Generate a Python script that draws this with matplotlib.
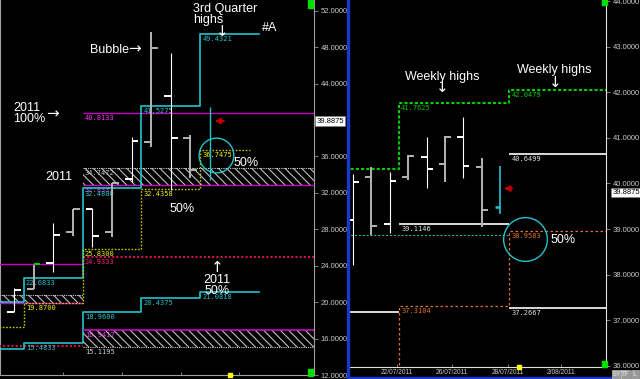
import numpy as np
import matplotlib
matplotlib.use("Agg")
import matplotlib.pyplot as plt
from matplotlib.patches import Rectangle
from matplotlib.transforms import blended_transform_factory

plt.rcParams['font.family'] = ['Liberation Sans', 'DejaVu Sans']
plt.rcParams['hatch.linewidth'] = 0.8

# ---- lewy wykres: slupki miesieczne (OHLC) ----
m_open  = [18.91, 21.44, 24.30, 27.70, 30.22, 27.70, 33.52, 37.58, 42.63, 38.02]
m_high  = [21.55, 24.08, 28.69, 30.22, 30.33, 33.08, 38.13, 49.66, 47.35, 38.35]
m_low   = [18.91, 21.44, 23.31, 27.26, 26.05, 27.15, 33.19, 37.03, 32.31, 33.63]
m_close = [21.33, 24.18, 27.37, 30.22, 27.26, 33.08, 37.69, 47.90, 38.02, 34.51]
cur_m_high, cur_m_low = 41.43, 33.41

# kwartaly
q_edges = [-1, 0.5, 3.5, 6.5, 9.5, 12.5]
q_high = [20.05, 22.6833, 32.4800, 41.5275, 49.4321]
q_low  = [14.85, 15.4833, 18.9600, 20.4375, 21.0818]
q_half = [17.27, 19.8700, 25.8300, 32.4358, 36.7475]
q_half_end = 12.04

# poziomy roczne (2010 / 2011)
y_edges = [-1, 3.5, 16]
y_full = [24.16, 40.8133]
y_zone_top = [20.78, 34.7472]
y_zone_bot = [19.87, 32.8333]
y_half = [15.17, 24.9333]
y_low_top, y_low_bot = 16.9417, 15.1195

# ---- prawy wykres: slupki dzienne ----
d_open  = [39.20, 40.14, 39.11, 40.14, 40.58, 40.43, 41.02, 40.36]
d_high  = [40.21, 40.36, 40.25, 40.62, 41.02, 41.04, 41.46, 40.56]
d_low   = [38.21, 38.87, 38.91, 40.07, 39.90, 40.03, 40.12, 39.04]
d_close = [40.03, 39.07, 40.05, 40.60, 40.32, 41.02, 40.38, 39.42]
cur_d_open, cur_d_high, cur_d_low = 39.48, 40.38, 39.33

# tygodnie
w_edges = [-1, 2.5, 8.5, 14]
w_high = [40.32, 41.7625, 42.0479]
w_white = [37.18, 39.1146, 40.6499]
w_white2 = 37.2667
w_half = [37.3104, 38.9583]
w_cyan = 38.87

last_price = 39.8875
dates = ['22/07/2011', '26/07/2011', '28/07/2011', '2/08/2011']
date_pos = [2.4, 5.4, 8.4, 11.3]

CYAN = '#22c4cc'
MAG = '#c800c8'
CRIM = '#d0105a'
YEL = '#c8c800'
GRN = '#00cc00'
ORG = '#e0702c'
GREY = '#b4b4b4'


def step_xy(edges, vals):
    xs = np.repeat(edges, 2)[1:-1]
    ys = np.repeat(vals, 2)
    return xs, ys


def ohlc(ax, o, h, l, c, tick):
    for i in range(len(o)):
        col = 'white' if i % 2 == 0 else GREY
        lw = 0.8 if i % 2 == 0 else 1.4
        ax.vlines(i, l[i], h[i], colors=col, lw=lw, zorder=4)
        ax.hlines(o[i], i - tick, i, colors=col, lw=1.4, zorder=4)
        ax.hlines(c[i], i, i + tick, colors=col, lw=1.4, zorder=4)


def label(ax, x, v, txt, col):
    ax.annotate(txt, (x, v), xytext=(1.5, -1.5), textcoords='offset points',
                ha='left', va='top', fontsize=5, color=col,
                family='DejaVu Sans Mono', zorder=3)


fig = plt.figure(figsize=(6.4, 3.79), dpi=100, facecolor='black')
W, H = 640, 379
ax = fig.add_axes([0, 4 / H, 314 / W, 375 / H], facecolor='black')
ax2 = fig.add_axes([349 / W, 12 / H, 257 / W, 367 / H], facecolor='black')

# ===== lewy =====
ax.set_xlim(-0.714, 15.31)
ax.set_ylim(12.0, 53.175)
xmax = 16

# strefy kreskowane
for k in range(2):
    x0, x1 = y_edges[k], y_edges[k + 1]
    ax.fill_between([x0, x1], y_zone_bot[k], y_zone_top[k], facecolor='black',
                    edgecolor='#c0c0c0', hatch='\\\\\\\\', lw=0, zorder=2)
    ax.hlines(y_zone_top[k], x0, x1, colors='#d0d0d0', linestyles=(0, (1, 1)), lw=0.8, zorder=3)
    ax.hlines(y_zone_bot[k], x0, x1, colors=MAG, lw=1, zorder=3)
    ax.hlines(y_full[k], x0, x1, colors=MAG, lw=1, zorder=3)
    ax.hlines(y_half[k], x0, x1, colors=CRIM, linestyles=(0, (1, 1)), lw=1.5, zorder=3)
label(ax, 3.5, y_full[1], '%.4f' % y_full[1], '#ff30ff')
label(ax, 3.5, y_zone_top[1], '%.4f' % y_zone_top[1], '#c0c0c0')
label(ax, 3.5, y_zone_bot[1], '%.4f' % y_zone_bot[1], '#ff30ff')
label(ax, 3.5, y_half[1], '%.4f' % y_half[1], '#ff2070')
label(ax, 3.5, y_low_top, '%.4f' % y_low_top, '#ff30ff')
label(ax, 3.5, y_low_bot, '%.4f' % y_low_bot, '#d0d0d0')
ax.fill_between([3.5, xmax], y_low_bot, y_low_top, facecolor='none',
                edgecolor='#c0c0c0', hatch='\\\\\\\\', lw=0, zorder=3.5)
ax.hlines(y_low_top, 3.5, xmax, colors=MAG, lw=1.2, zorder=3.6)
ax.hlines(y_low_bot, 3.5, xmax, colors='#d0d0d0', linestyles=(0, (1, 1)), lw=0.8, zorder=3.6)

# kwartalne linie
xs, ys = step_xy(q_edges, q_high)
ax.plot(xs, ys, color=CYAN, lw=1.2, zorder=3)
xs, ys = step_xy(q_edges, q_low)
ax.plot(xs, ys, color=CYAN, lw=1.2, zorder=3)
xs, ys = step_xy(q_edges[:-1] + [q_half_end], q_half)
ax.plot(xs, ys, color=YEL, lw=1.0, ls=(0, (1.2, 1.2)), zorder=3)
for k in range(1, 5):
    label(ax, q_edges[k], q_high[k], '%.4f' % q_high[k], CYAN)
    label(ax, q_edges[k], q_low[k], '%.4f' % q_low[k], CYAN)
    label(ax, q_edges[k], q_half[k], '%.4f' % q_half[k], '#f0f000')

ohlc(ax, m_open, m_high, m_low, m_close, 0.35)
ax.vlines(len(m_open), cur_m_low, cur_m_high, colors=CYAN, lw=1, zorder=4)
ax.hlines(m_close[1], 1, 1.35, colors=GRN, lw=1.4, zorder=5)

ax.plot(10.31, 36.15, 'o', ms=25, mfc='none', mec=CYAN, mew=1, zorder=5)
ax.annotate('', xy=(10.1, last_price), xytext=(10.85, last_price),
            arrowprops=dict(arrowstyle='-|>', color='#c00000', lw=1.5,
                            mutation_scale=8), zorder=6)

txt = dict(color='white', fontsize=9, va='top', zorder=7)
arr = dict(color='white', fontsize=11, va='top', zorder=7, family='DejaVu Sans')
ax.text(9.13, 52.9, '3rd Quarter\nhighs', linespacing=0.95, **txt)
ax.text(10.65, 50.5, '↓', ha='center', **arr)
ax.text(12.65, 50.8, '#A', **txt)
ax.text(3.88, 48.35, 'Bubble', **txt)
ax.text(5.8, 48.6, '→', **arr)
ax.text(-0.05, 42.0, '2011\n100%', linespacing=0.95, **txt)
ax.text(1.65, 41.5, '→', **arr)
ax.text(1.58, 34.4, '2011', **txt)
ax.text(11.22, 35.95, '50%', **txt)
ax.text(7.96, 30.9, '50%', **txt)
ax.text(10.36, 24.6, '↑', ha='center', **arr)
ax.text(10.36, 23.1, '2011\n50%', ha='center', multialignment='center',
        linespacing=0.95, **txt)

ax.set_yticks([t for t in range(12, 53, 4) if t != 40])
ax.yaxis.set_major_formatter(lambda v, p: '%.4f' % v)
ax.yaxis.tick_right()
ax.set_xticks([2.5, 5.5, 8.5, 11.5])
ax.set_xticklabels([])
ax.tick_params(axis='y', colors='#909090', labelcolor='#c8c8c8', labelsize=5.5,
               length=3, width=0.6, pad=2)
ax.tick_params(axis='x', colors='#909090', direction='in', length=2, width=0.6)
ax.spines['top'].set_visible(False)
for s in ['left', 'right', 'bottom']:
    ax.spines[s].set_color('#a0a0a0')
    ax.spines[s].set_linewidth(0.8)
tr = blended_transform_factory(ax.transAxes, ax.transData)
ax.text(1.007, last_price, '%.4f' % last_price, transform=tr, fontsize=5.5,
        color='black', va='center', ha='left',
        bbox=dict(fc='white', ec='#808080', lw=0.4, pad=0.9), clip_on=False)
ax.plot(11.0, 12.0, 's', ms=2.5, color='#ffff00', clip_on=False, zorder=8)

# ===== prawy =====
ax2.set_xlim(-0.217, 13.75)
ax2.set_ylim(35.974, 44.022)
xmax2 = 14

xs, ys = step_xy(w_edges, w_high)
ax2.plot(xs, ys, color=GRN, lw=1.5, ls=(0, (1.5, 1)), zorder=3)
for k in range(1, 3):
    label(ax2, w_edges[k], w_high[k], '%.4f' % w_high[k], GRN)
for k in range(3):
    ax2.hlines(w_white[k], w_edges[k], w_edges[k + 1], colors='white', lw=1.2, zorder=3)
for k in range(1, 3):
    label(ax2, w_edges[k], w_white[k], '%.4f' % w_white[k], '#e0e0e0')
ax2.hlines(w_white2, 8.5, xmax2, colors='white', lw=1.2, zorder=3)
label(ax2, 8.5, w_white2, '%.4f' % w_white2, '#e0e0e0')
xs, ys = step_xy(w_edges[1:], w_half)
ax2.plot(np.r_[2.5, xs], np.r_[35.9, ys], color=ORG, lw=0.9, ls=(0, (2, 2)), zorder=3)
for k in range(2):
    label(ax2, w_edges[k + 1], w_half[k], '%.4f' % w_half[k], ORG)
ax2.hlines(w_cyan, -1, 8.5, colors=CYAN, lw=0.7, linestyles=(0, (2, 2)), zorder=3)

ohlc(ax2, d_open, d_high, d_low, d_close, 0.33)
n = len(d_open)
ax2.vlines(n, cur_d_low, cur_d_high, colors=CYAN, lw=1.2, zorder=4)
ax2.hlines(cur_d_open, n - 0.3, n, colors=CYAN, lw=1.8, zorder=4)

ax2.plot(9.35, 38.78, 'o', ms=31.5, mfc='none', mec=CYAN, mew=1, zorder=5)
ax2.annotate('', xy=(8.05, last_price), xytext=(8.8, last_price),
             arrowprops=dict(arrowstyle='-|>', color='#c00000', lw=1.5,
                             mutation_scale=8), zorder=6)
ax2.text(2.83, 42.47, 'Weekly highs', **txt)
ax2.text(4.84, 42.26, '↓', ha='center', **arr)
ax2.text(8.91, 42.62, 'Weekly highs', **txt)
ax2.text(10.98, 42.38, '↓', ha='center', **arr)
ax2.text(10.71, 38.88, '50%', **txt)

ax2.set_yticks(range(36, 45))
ax2.yaxis.set_major_formatter(lambda v, p: '%.4f' % v)
ax2.yaxis.tick_right()
ax2.set_xticks(date_pos)
ax2.set_xticklabels(dates)
ax2.tick_params(axis='y', colors='#909090', labelcolor='#c8c8c8', labelsize=5.5,
                length=3, width=0.6, pad=2)
ax2.tick_params(axis='x', colors='#909090', labelcolor='#c8c8c8', labelsize=4.8,
                direction='in', length=2, width=0.6, pad=1.5)
ax2.spines['top'].set_visible(False)
ax2.spines['left'].set_visible(False)
for s in ['right', 'bottom']:
    ax2.spines[s].set_color('#e0e0e0')
    ax2.spines[s].set_linewidth(0.8)
tr2 = blended_transform_factory(ax2.transAxes, ax2.transData)
ax2.text(1.024, last_price, '%.4f' % last_price, transform=tr2, fontsize=5.5,
         color='black', va='top', ha='left',
         bbox=dict(fc='white', ec='#808080', lw=0.4, pad=0.7), clip_on=False)
ax2.plot(9.0, 35.974, 's', ms=2.5, color='#ffff00', clip_on=False, zorder=8)

# ramki / ozdobniki
fig.patches.append(Rectangle((347 / W, 0), 2 / W, 1, transform=fig.transFigure,
                             color='#1838d0', zorder=10))
fig.patches.append(Rectangle((349 / W, 0), 263 / W, 2 / H, transform=fig.transFigure,
                             color='#1838d0', zorder=10))
for (x, y, w, h) in [(308, 369, 5, 7), (308, 0, 5, 8), (602, 361, 5, 6), (602, 0, 5, 5)]:
    fig.patches.append(Rectangle((x / W, 1 - (y + h) / H), w / W, h / H,
                                 transform=fig.transFigure, color='#00e000', zorder=10))
for i, b in enumerate(['SY', 'TF', 'L']):
    fig.patches.append(Rectangle(((612 + i * 9.3) / W, 0), 8.5 / W, 9 / H,
                                 transform=fig.transFigure, fc='#9a9a9a',
                                 ec='#d0d0d0', lw=0.4, zorder=10))
    fig.text((616.2 + i * 9.3) / W, 4.5 / H, b, fontsize=5, color='#e8e8e8',
             ha='center', va='center', zorder=11)

fig.savefig('out.png', dpi=100, facecolor='black')
